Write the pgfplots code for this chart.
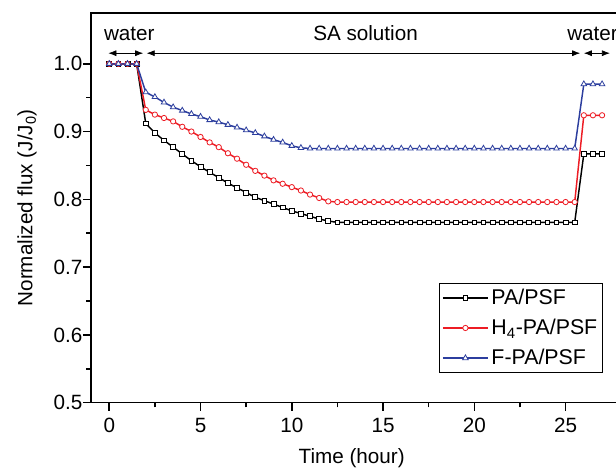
\documentclass[border=0pt]{standalone}
\usepackage{fontspec}
\setmainfont{Liberation Sans}
\usepackage{pgfplots}
\pgfplotsset{compat=1.18}
\usepackage{pgfplotstable}
\usetikzlibrary{arrows.meta}

\definecolor{fluxred}{RGB}{237,28,36}
\definecolor{fluxblue}{RGB}{44,62,158}

% time (hour) vs normalized flux
\pgfplotstableread{
t v
0 1.0
0.5 1.0
1 1.0
1.5 1.0
2 0.912
2.5 0.898
3 0.887
3.5 0.877
4 0.867
4.5 0.857
5 0.848
5.5 0.840
6 0.832
6.5 0.824
7 0.817
7.5 0.810
8 0.803
8.5 0.798
9 0.793
9.5 0.788
10 0.783
10.5 0.779
11 0.775
11.5 0.771
12 0.768
12.5 0.766
13 0.766
13.5 0.766
14 0.766
14.5 0.766
15 0.766
15.5 0.766
16 0.766
16.5 0.766
17 0.766
17.5 0.766
18 0.766
18.5 0.766
19 0.766
19.5 0.766
20 0.766
20.5 0.766
21 0.766
21.5 0.766
22 0.766
22.5 0.766
23 0.766
23.5 0.766
24 0.766
24.5 0.766
25 0.766
25.5 0.766
26 0.867
26.5 0.867
27 0.867
}\papsf

\pgfplotstableread{
t v
0 1.0
0.5 1.0
1 1.0
1.5 1.0
2 0.932
2.5 0.925
3 0.920
3.5 0.915
4 0.907
4.5 0.900
5 0.892
5.5 0.884
6 0.877
6.5 0.868
7 0.860
7.5 0.851
8 0.842
8.5 0.835
9 0.828
9.5 0.823
10 0.818
10.5 0.813
11 0.807
11.5 0.802
12 0.797
12.5 0.796
13 0.796
13.5 0.796
14 0.796
14.5 0.796
15 0.796
15.5 0.796
16 0.796
16.5 0.796
17 0.796
17.5 0.796
18 0.796
18.5 0.796
19 0.796
19.5 0.796
20 0.796
20.5 0.796
21 0.796
21.5 0.796
22 0.796
22.5 0.796
23 0.796
23.5 0.796
24 0.796
24.5 0.796
25 0.796
25.5 0.796
26 0.924
26.5 0.924
27 0.924
}\hpapsf

\pgfplotstableread{
t v
0 1.0
0.5 1.0
1 1.0
1.5 1.0
2 0.958
2.5 0.951
3 0.943
3.5 0.936
4 0.931
4.5 0.926
5 0.922
5.5 0.917
6 0.914
6.5 0.910
7 0.906
7.5 0.902
8 0.898
8.5 0.893
9 0.888
9.5 0.884
10 0.879
10.5 0.876
11 0.875
11.5 0.875
12 0.875
12.5 0.875
13 0.875
13.5 0.875
14 0.875
14.5 0.875
15 0.875
15.5 0.875
16 0.875
16.5 0.875
17 0.875
17.5 0.875
18 0.875
18.5 0.875
19 0.875
19.5 0.875
20 0.875
20.5 0.875
21 0.875
21.5 0.875
22 0.875
22.5 0.875
23 0.875
23.5 0.875
24 0.875
24.5 0.875
25 0.875
25.5 0.875
26 0.970
26.5 0.970
27 0.970
}\fpapsf

\begin{document}
\begin{tikzpicture}
\begin{axis}[
    scale only axis,
    width=397pt, height=292.3pt,
    xmin=-1, xmax=28,
    ymin=0.5, ymax=1.075,
    xtick={0,5,10,15,20,25},
    ytick={0.5,0.6,0.7,0.8,0.9,1.0},
    minor x tick num=1, minor y tick num=1,
    tick align=outside, xtick pos=bottom, ytick pos=left,
    major tick length=6pt, minor tick length=3.5pt,
    axis line style={line width=1.2pt},
    every tick/.style={line width=1.2pt, black},
    font=\fontsize{15.5}{18.5}\selectfont,
    /pgf/number format/assume math mode=true,
    yticklabel style={xshift=3pt, /pgf/number format/fixed, /pgf/number format/fixed zerofill, /pgf/number format/precision=1},
    xticklabel style={yshift=-2pt},
    xlabel={Time (hour)},
    ylabel={Normalized flux (J/J\textsubscript{0})},
    xlabel style={at={(axis description cs:0.5,0)}, anchor=center, yshift=-41.5pt, xshift=-3pt},
    ylabel style={at={(axis description cs:-0.121,0.5)}, anchor=center},
    clip=false,
    legend cell align=left,
    legend style={at={(axis cs:27.05,0.676)}, anchor=north east,
        draw=black, line width=0.6pt, font=\fontsize{16}{19}\selectfont,
        row sep=5.5pt, inner sep=2pt},
    legend image code/.code={
        \draw[mark repeat=2, mark phase=2, #1] plot coordinates {(0pt,0pt) (17pt,0pt) (34pt,0pt)};
    },
    every axis plot/.append style={line width=1.1pt, mark options={solid, fill=white, line width=0.6pt}},
]
\addplot[black, mark=square*, mark size=1.8pt] table[x=t, y=v] {\papsf};
\addplot[fluxred, mark=*, mark size=2pt] table[x=t, y=v] {\hpapsf};
\addplot[fluxblue, mark=triangle*, mark size=2.4pt] table[x=t, y=v] {\fpapsf};
\legend{PA/PSF, H\textsubscript{4}-PA/PSF, F-PA/PSF}

\draw[{Latex[length=6pt,width=4.5pt]}-{Latex[length=6pt,width=4.5pt]}, line width=0.5pt]
    (axis cs:-0.05,1.0156) -- (axis cs:1.86,1.0156);
\draw[{Latex[length=6pt,width=4.5pt]}-{Latex[length=6pt,width=4.5pt]}, line width=0.5pt]
    (axis cs:2.05,1.0156) -- (axis cs:25.8,1.0156);
\draw[{Latex[length=6pt,width=4.5pt]}-{Latex[length=6pt,width=4.5pt]}, line width=0.5pt]
    (axis cs:26.0,1.0156) -- (axis cs:27.43,1.0156);
\node at (axis cs:1.1,1.0447) {water};
\node at (axis cs:14.04,1.0447) {SA solution};
\node[anchor=west, inner sep=0pt] at (axis cs:25.08,1.0447) {water};
\end{axis}
\pgfresetboundingbox
\useasboundingbox (-68.25pt,-49.7pt) rectangle (393.75pt,302.0pt);
\end{tikzpicture}
\end{document}
